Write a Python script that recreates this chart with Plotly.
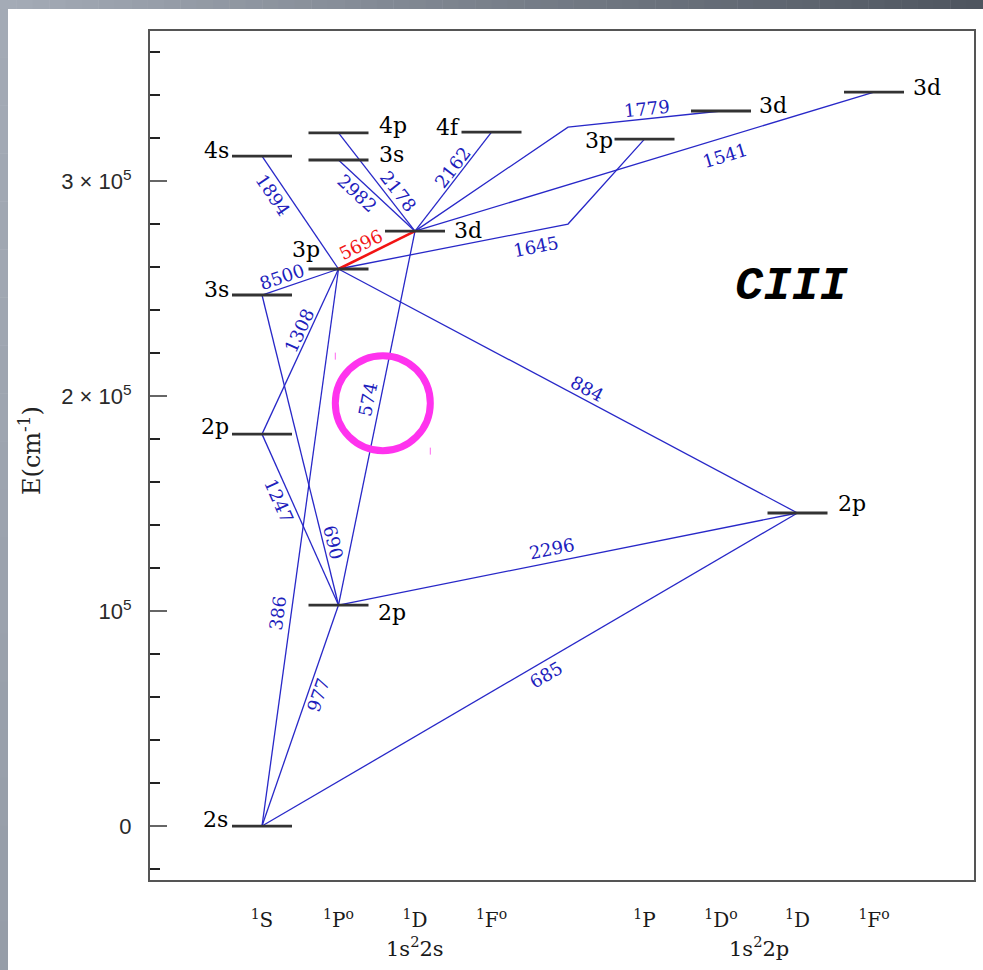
import math
import plotly.graph_objects as go

# ---------------- data ----------------
# Term columns along the x axis (column 4 is the gap between the two configurations)
term_cols = [0, 1, 2, 3, 5, 6, 7, 8]
term_names = ["<sup>1</sup>S", "<sup>1</sup>P<sup>o</sup>", "<sup>1</sup>D", "<sup>1</sup>F<sup>o</sup>",
              "<sup>1</sup>P", "<sup>1</sup>D<sup>o</sup>", "<sup>1</sup>D", "<sup>1</sup>F<sup>o</sup>"]
config_names = ["1s<sup>2</sup>2s", "1s<sup>2</sup>2p"]
config_cols = [2.0, 6.5]

# Singlet levels of C III (energy in cm^-1)
level_keys = ["2s", "2pS", "3sS", "4s", "2pP", "3pP", "3sP", "4p", "3dD", "4f", "3pPe", "3dDo", "2pD", "3dFo"]
level_names = ["2s", "2p", "3s", "4s", "2p", "3p", "3s", "4p", "3d", "4f", "3p", "3d", "2p", "3d"]
level_cols = [0, 0, 0, 0, 1, 1, 1, 1, 2, 3, 5, 6, 7, 8]
level_E = [0, 182300, 247000, 311600, 102800, 259100, 309800, 322400, 276700, 322800, 319500, 332600, 145600, 341400]

# Transitions: lower/upper level, wavelength (Angstrom) label, optional routing energy in the gap column
tr_from = ["2s", "2s", "2s", "2pS", "2pS", "3sS", "3sS", "4s", "2pP", "2pP", "3pP", "3pP", "3pP", "3sP", "4p", "3dD", "3dD", "3dD"]
tr_to = ["2pP", "3pP", "2pD", "2pP", "3pP", "2pP", "3pP", "3pP", "3dD", "2pD", "3dD", "2pD", "3pPe", "3dD", "3dD", "4f", "3dDo", "3dFo"]
tr_label = ["977", "386", "685", "1247", "1308", "690", "8500", "1894", "574", "2296", "5696", "884", "1645", "2982", "2178", "2162", "1779", "1541"]
tr_route_E = [None, None, None, None, None, None, None, None, None, None, None, None, 280000, None, None, None, 325100, None]
GAP_COL = 4
HIGHLIGHT = "5696"      # drawn in red
CIRCLED = "574"         # ringed line

# y axis ticks
y_tickvals = [0, 100000, 200000, 300000]
y_ticktext = ["0", "10<sup>5</sup>", "2 × 10<sup>5</sup>", "3 × 10<sup>5</sup>"]

# ---------------- geometry / style ----------------
FIG_W, FIG_H = 983, 970
M_L, M_R, M_T, M_B = 150, 9, 31, 90
PW, PH = FIG_W - M_L - M_R, FIG_H - M_T - M_B
X0, X1 = -1.464, 9.307
Y0, Y1 = -25100, 369800
BAR_HALF = 30 / (PW / (X1 - X0))   # 30 px half width of each level bar

BLUE = "#2828c8"
BLUE_TXT = "#2020bc"
RED = "#f21414"

# label placement along each line: (segment, fraction, perpendicular offset px)
tr_seg = [0] * len(tr_label)
tr_seg[tr_label.index("1779")] = 1
tr_t = [0.607, 0.379, 0.519, 0.361, 0.604, 0.806, 0.314, 0.278, 0.544, 0.471, 0.36, 0.53, 0.846, 0.353, 0.668, 0.585, 0.521, 0.664]
tr_off = [-10, 14, -13, -12, 10, 10, 11, -13, 13, 13, 12, 11, -16, -12, 11, 9, 10, -17]

# level label placement: anchor side, x shift px, baseline below bar px
lab_anchor = ["right", "right", "right", "right", "left", "right", "left", "left", "left", "right", "right", "left", "left", "left"]
lab_dx = [-33, -32, -32, -32, 38, -18, 39, 39, 38, -31, -31, 37, 39, 38]
lab_base = [1, 0, 2, 2, 15, -12, 2, 0, 7, 3, 9, 2, -2, 3]


def to_px(k, e):
    return (M_L + (k - X0) / (X1 - X0) * PW, M_T + (Y1 - e) / (Y1 - Y0) * PH)


lvl = {key: (c, e) for key, c, e in zip(level_keys, level_cols, level_E)}

fig = go.Figure()

# transition lines
for colour, width, pick in [(BLUE, 1.3, lambda s: s != HIGHLIGHT), (RED, 2.6, lambda s: s == HIGHLIGHT)]:
    xs, ys = [], []
    for a, b, lab, route in zip(tr_from, tr_to, tr_label, tr_route_E):
        if not pick(lab):
            continue
        pts = [lvl[a]] + ([(GAP_COL, route)] if route is not None else []) + [lvl[b]]
        xs += [p[0] for p in pts] + [None]
        ys += [p[1] for p in pts] + [None]
    fig.add_trace(go.Scatter(x=xs, y=ys, mode="lines", line=dict(color=colour, width=width),
                             hoverinfo="skip", showlegend=False))

# level bars
bx, by = [], []
for c, e in zip(level_cols, level_E):
    bx += [c - BAR_HALF, c + BAR_HALF, None]
    by += [e, e, None]
fig.add_trace(go.Scatter(x=bx, y=by, mode="lines", line=dict(color="#333333", width=2.8),
                         hoverinfo="skip", showlegend=False))

annotations = []

# wavelength labels along the lines
circle_centre = None
for a, b, lab, route, seg, t, off in zip(tr_from, tr_to, tr_label, tr_route_E, tr_seg, tr_t, tr_off):
    pts = [lvl[a]] + ([(GAP_COL, route)] if route is not None else []) + [lvl[b]]
    (k0, e0), (k1, e1) = pts[seg], pts[seg + 1]
    s0, s1 = to_px(k0, e0), to_px(k1, e1)
    ang = math.atan2(s1[1] - s0[1], s1[0] - s0[0])
    k, e = k0 + t * (k1 - k0), e0 + t * (e1 - e0)
    annotations.append(dict(x=k, y=e, xref="x", yref="y", text=lab, showarrow=False,
                            textangle=math.degrees(ang), xanchor="center", yanchor="middle",
                            xshift=off * math.sin(ang), yshift=off * math.cos(ang), borderpad=0,
                            font=dict(family="DejaVu Serif", size=18,
                                      color=RED if lab == HIGHLIGHT else BLUE_TXT)))
    if lab == CIRCLED:
        tc = 0.54
        circle_centre = to_px(k0 + tc * (k1 - k0), e0 + tc * (e1 - e0))

# level labels
for name, c, e, anc, dx, base in zip(level_names, level_cols, level_E, lab_anchor, lab_dx, lab_base):
    annotations.append(dict(x=c, y=e, xref="x", yref="y", text=name, showarrow=False,
                            xanchor=anc, yanchor="middle", xshift=dx, yshift=7.6 - base, borderpad=0,
                            font=dict(family="DejaVu Serif", size=22, color="#000000")))

# configuration names under the term labels
for name, c in zip(config_names, config_cols):
    annotations.append(dict(x=c, y=0, xref="x", yref="paper", text=name, showarrow=False,
                            xanchor="center", yanchor="middle", yshift=-67,
                            font=dict(family="DejaVu Serif", size=21, color="#1a1a1a")))

# y axis title
annotations.append(dict(x=(30 - M_L) / PW, y=1 - (451 - M_T) / PH, xref="paper", yref="paper",
                        text="E(cm<sup>-1</sup>)", showarrow=False, textangle=-90,
                        xanchor="center", yanchor="middle",
                        font=dict(family="DejaVu Serif", size=24, color="#222222")))

# ion name
annotations.append(dict(x=(792 - M_L) / PW, y=1 - (287 - M_T) / PH, xref="paper", yref="paper",
                        text="<b><i>CIII</i></b>", showarrow=False, xanchor="center", yanchor="middle",
                        font=dict(family="Liberation Mono", size=47, color="#000000")))

shapes = []


def px_to_paper(x, y):
    return (x - M_L) / PW, 1 - (y - M_T) / PH


# grey gradient frame around the page (top band and left band)
N = 60
c_left, c_right = (164, 171, 182), (78, 85, 95)
for i in range(N):
    f = i / (N - 1)
    col = tuple(round(c_left[j] + (c_right[j] - c_left[j]) * f) for j in range(3))
    xa, ya = px_to_paper(FIG_W * i / N, 0)
    xb, yb = px_to_paper(FIG_W * (i + 1) / N + 0.5, 9)
    shapes.append(dict(type="rect", xref="paper", yref="paper", x0=xa, x1=xb, y0=yb, y1=ya,
                       line=dict(width=0), fillcolor="rgb(%d,%d,%d)" % col, layer="below"))
M = 20
c_top, c_bot = (163, 170, 181), (150, 157, 168)
for i in range(M):
    f = i / (M - 1)
    col = tuple(round(c_top[j] + (c_bot[j] - c_top[j]) * f) for j in range(3))
    xa, ya = px_to_paper(0, 9 + (FIG_H - 9) * i / M)
    xb, yb = px_to_paper(8, 9 + (FIG_H - 9) * (i + 1) / M + 0.5)
    shapes.append(dict(type="rect", xref="paper", yref="paper", x0=xa, x1=xb, y0=yb, y1=ya,
                       line=dict(width=0), fillcolor="rgb(%d,%d,%d)" % col, layer="below"))

# magenta ring around the circled line
cx, cy = circle_centre
cx += 3
R = 47.5
xa, ya = px_to_paper(cx - R, cy - R)
xb, yb = px_to_paper(cx + R, cy + R)
shapes.append(dict(type="circle", xref="paper", yref="paper", x0=xa, x1=xb, y0=yb, y1=ya,
                   line=dict(color="#ff33ee", width=7)))
for sx, sy in [(cx - R, cy - R), (cx + R, cy + R)]:
    xa, ya = px_to_paper(sx, sy - 3)
    xb, yb = px_to_paper(sx, sy + 4)
    shapes.append(dict(type="line", xref="paper", yref="paper", x0=xa, x1=xb, y0=ya, y1=yb,
                       line=dict(color="#ff66f0", width=1)))

fig.update_layout(
    width=FIG_W, height=FIG_H,
    margin=dict(l=M_L, r=M_R, t=M_T, b=M_B, autoexpand=False),
    paper_bgcolor="white", plot_bgcolor="white",
    showlegend=False,
    annotations=annotations, shapes=shapes,
    xaxis=dict(range=[X0, X1], showgrid=False, zeroline=False, showline=True, mirror=True,
               linecolor="#555555", linewidth=2, tickvals=term_cols, ticktext=term_names, ticks="",
               ticklabelstandoff=21, tickfont=dict(family="DejaVu Serif", size=20, color="#1a1a1a")),
    yaxis=dict(range=[Y0, Y1], showgrid=False, zeroline=False, showline=True, mirror=True,
               linecolor="#555555", linewidth=2,
               tickvals=y_tickvals, ticktext=y_ticktext,
               ticks="inside", ticklen=17, tickwidth=1.5, tickcolor="#666666",
               minor=dict(dtick=20000, tick0=0, ticks="inside", ticklen=10, tickwidth=1.5, tickcolor="#222222"),
               ticklabelstandoff=12,
               tickfont=dict(family="Liberation Sans", size=22, color="#2a2a2a")),
)

fig.write_html("out.html")
